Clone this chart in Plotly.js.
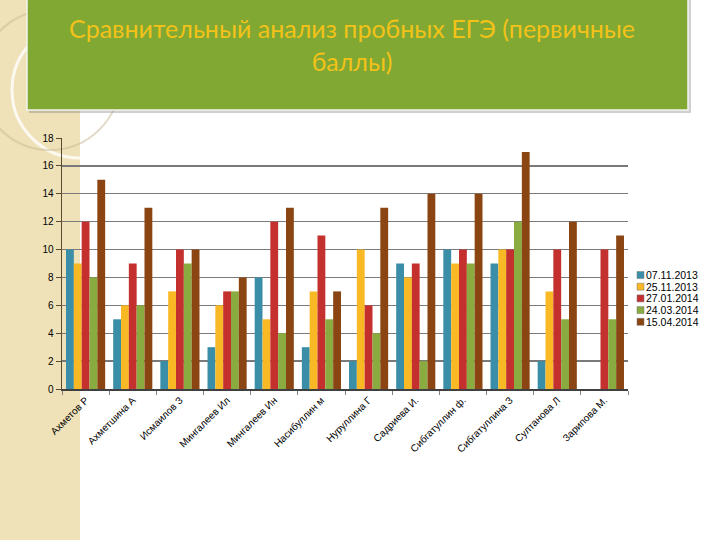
<!DOCTYPE html>
<html>
<head>
<meta charset="utf-8">
<script src="https://cdn.plot.ly/plotly-3.0.1.min.js"></script>
<style>
  html, body { margin: 0; padding: 0; background: #ffffff; }
  #chart { width: 720px; height: 540px; }
</style>
</head>
<body>
<div id="chart"></div>
<script>
// students and exam dates
const students = ['Ахметов Р', 'Ахметшина А', 'Исмаилов З', 'Мингалеев Ил', 'Мингалеев Ин',
    'Насибуллин м', 'Нуруллина Г', 'Садриева И.', 'Сибгатуллин ф.', 'Сибгатуллина З',
    'Султанова Л', 'Зарипова М.'];
const dates = ['07.11.2013', '25.11.2013', '27.01.2014', '24.03.2014', '15.04.2014'];

const nov07 = [10, 5, 2, 3, 8, 3, 2, 9, 10, 9, 2, 0];
const nov25 = [9, 6, 7, 6, 5, 7, 10, 8, 9, 10, 7, 0];
const jan27 = [12, 9, 10, 7, 12, 11, 6, 9, 10, 10, 10, 10];
const mar24 = [8, 6, 9, 7, 4, 5, 4, 2, 9, 12, 5, 5];
const apr15 = [15, 13, 10, 8, 13, 7, 13, 14, 14, 17, 12, 11];

const yTicks = [0, 2, 4, 6, 8, 10, 12, 14, 16, 18];

const series = [nov07, nov25, jan27, mar24, apr15];
const colors = ['#3b8ea8', '#f9b924', '#c4302e', '#8aab3f', '#8a4513'];

const traces = series.map(function (vals, i) {
    return {
        type: 'bar',
        name: dates[i],
        x: students,
        y: vals,
        marker: {color: colors[i], line: {width: 0}}
    };
});

// plot area in pixels: x 62..628, y 138..389
function px(x) { return (x - 62) / 566; }
function py(y) { return (389 - y) / 251; }

const shapes = [
    // beige strip on the left
    {type: 'rect', xref: 'paper', yref: 'paper', layer: 'below',
        x0: px(0), x1: px(80), y0: py(540), y1: py(0),
        fillcolor: '#efe2b9', line: {width: 0}},
    // faint decorative circles
    {type: 'circle', xref: 'paper', yref: 'paper', layer: 'below',
        x0: px(12), x1: px(148), y0: py(158), y1: py(22),
        fillcolor: 'rgba(0,0,0,0)', line: {color: 'rgba(255,255,255,0.8)', width: 3}},
    {type: 'circle', xref: 'paper', yref: 'paper', layer: 'below',
        x0: px(-20), x1: px(120), y0: py(150), y1: py(10),
        fillcolor: 'rgba(0,0,0,0)', line: {color: 'rgba(200,185,150,0.5)', width: 2}},
    // banner shadow
    {type: 'rect', xref: 'paper', yref: 'paper', layer: 'below',
        x0: px(29), x1: px(691), y0: py(113), y1: py(-5),
        fillcolor: 'rgba(120,120,120,0.35)', line: {width: 0}},
    // green banner
    {type: 'rect', xref: 'paper', yref: 'paper', layer: 'below',
        x0: px(27), x1: px(688), y0: py(110), y1: py(-5),
        fillcolor: '#80a833', line: {color: '#f4f4ee', width: 1.5}}
];

const annotations = [{
    xref: 'paper', yref: 'paper',
    x: px(352), y: py(44), xanchor: 'center', yanchor: 'middle',
    text: 'Сравнительный анализ пробных ЕГЭ (первичные<br>баллы)',
    showarrow: false,
    font: {family: 'Lato, sans-serif', size: 25, color: '#f3c219'}
}];

// legend drawn from the dates and colours
dates.forEach(function (d, i) {
    const yc = 275 + i * 11.7;
    shapes.push({type: 'rect', xref: 'paper', yref: 'paper',
        x0: px(637), x1: px(644), y0: py(yc + 3.5), y1: py(yc - 3.5),
        fillcolor: colors[i], line: {color: '#777777', width: 0.5}});
    annotations.push({xref: 'paper', yref: 'paper',
        x: px(645), y: py(yc), xanchor: 'left', yanchor: 'middle',
        text: d, showarrow: false, borderpad: 0,
        font: {size: 10.5, color: '#000000'}});
});

const layout = {
    width: 720,
    height: 540,
    margin: {l: 62, r: 92, t: 138, b: 151},
    paper_bgcolor: 'rgba(0,0,0,0)',
    plot_bgcolor: 'rgba(0,0,0,0)',
    font: {family: 'Liberation Sans, Arial, sans-serif', color: '#000000', size: 10},
    barmode: 'group',
    bargap: 0.17,
    bargroupgap: 0,
    xaxis: {
        tickangle: -45,
        showline: true,
        linecolor: '#404040',
        linewidth: 1.5,
        ticks: 'outside',
        tickson: 'boundaries',
        ticklen: 4,
        tickcolor: '#808080',
        tickfont: {size: 10},
        showgrid: false
    },
    yaxis: {
        range: [0, 18],
        tickvals: yTicks,
        showline: true,
        linecolor: '#5a4a30',
        linewidth: 1.5,
        ticks: 'outside',
        ticklen: 5,
        tickcolor: '#5a4a30',
        tickfont: {size: 10},
        showgrid: true,
        gridcolor: '#7a7a7a',
        gridwidth: 1.3,
        zeroline: false
    },
    showlegend: false,
    shapes: shapes,
    annotations: annotations
};

Plotly.newPlot('chart', traces, layout, {displayModeBar: false, staticPlot: true});
</script>
</body>
</html>
